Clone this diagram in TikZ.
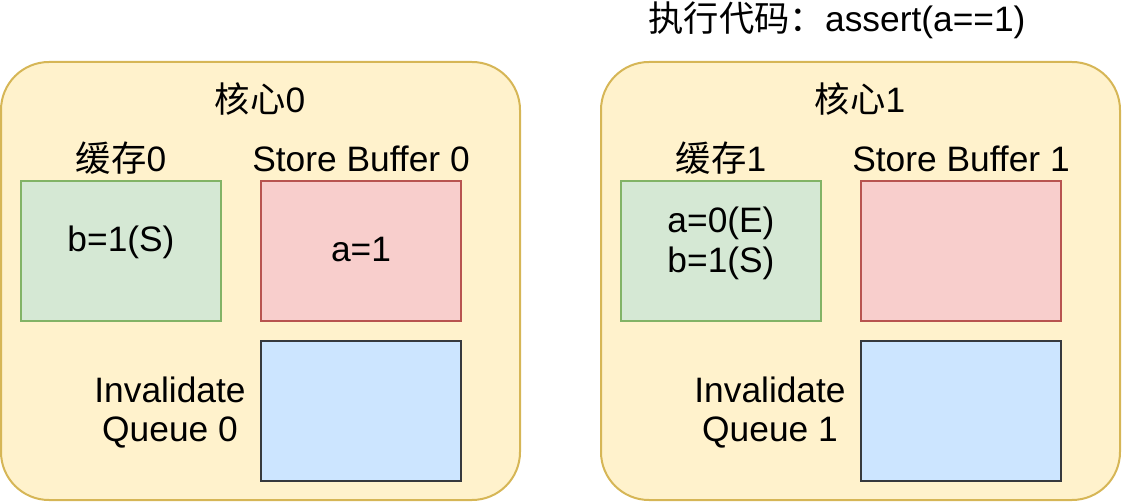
\documentclass[tikz,border=0pt]{standalone}
\usepackage{fontspec}
\setmainfont{Liberation Sans}
\newfontfamily\cjk{Noto Sans CJK SC}
\usepackage{xcolor}
\usepackage{tikz}
\usetikzlibrary{positioning}

\definecolor{coreFill}{HTML}{FFF2CC}
\definecolor{coreLine}{HTML}{D6B656}
\definecolor{cacheFill}{HTML}{D5E8D4}
\definecolor{cacheLine}{HTML}{82B366}
\definecolor{bufFill}{HTML}{F8CECC}
\definecolor{bufLine}{HTML}{B85450}
\definecolor{queueFill}{HTML}{CCE5FF}
\definecolor{queueLine}{HTML}{36393D}

\begin{document}
\begin{tikzpicture}[x=0.75pt, y=-0.75pt,
    font=\fontsize{26.5}{30}\selectfont,
    core/.style={draw=coreLine, fill=coreFill, line width=1.5pt, rounded corners=36pt,
        minimum width=389.25pt, minimum height=328.5pt, inner sep=0pt, outer sep=0pt},
    unit/.style={line width=1.1pt, minimum width=150pt, minimum height=105pt, inner sep=0pt, outer sep=0pt},
    txt/.style={inner sep=0pt, anchor=base, align=center}]
    \useasboundingbox (0,0) rectangle (1122,502);

    \node[txt] (code) at (837,32) {{\cjk 执行代码：}assert(a==1)};

    % core 0
    \node[core] (core0) at (260.5,281) {};
    \node[txt] (core0title) at (260,113) {{\cjk 核心}0};
    \node[txt] (cache0label) at (121,172) {{\cjk 缓存}0};
    \node[txt] (sb0label) at (361,172) {Store Buffer 0};
    \node[unit, draw=cacheLine, fill=cacheFill] (cache0) at (121,251) {};
    \node[unit, draw=bufLine, fill=bufFill] (sb0) at (361,251) {};
    \node[unit, draw=queueLine, fill=queueFill] (iq0) at (361,411) {};
    \node[txt] (cache0data) at (121,252) {b=1(S)};
    \node[txt] (sb0data) at (361,262) {a=1};
    \node[txt] (iq0label) at (170,442) {Invalidate\\Queue 0};

    % core 1
    \node[core] (core1) at (860.5,281) {};
    \node[txt] (core1title) at (860,113) {{\cjk 核心}1};
    \node[txt] (cache1label) at (721,172) {{\cjk 缓存}1};
    \node[txt] (sb1label) at (961,172) {Store Buffer 1};
    \node[unit, draw=cacheLine, fill=cacheFill] (cache1) at (721,251) {};
    \node[unit, draw=bufLine, fill=bufFill] (sb1) at (961,251) {};
    \node[unit, draw=queueLine, fill=queueFill] (iq1) at (961,411) {};
    \node[txt] (cache1data) at (721,273) {a=0(E)\\b=1(S)};
    \node[txt] (iq1label) at (770,442) {Invalidate\\Queue 1};
\end{tikzpicture}
\end{document}
